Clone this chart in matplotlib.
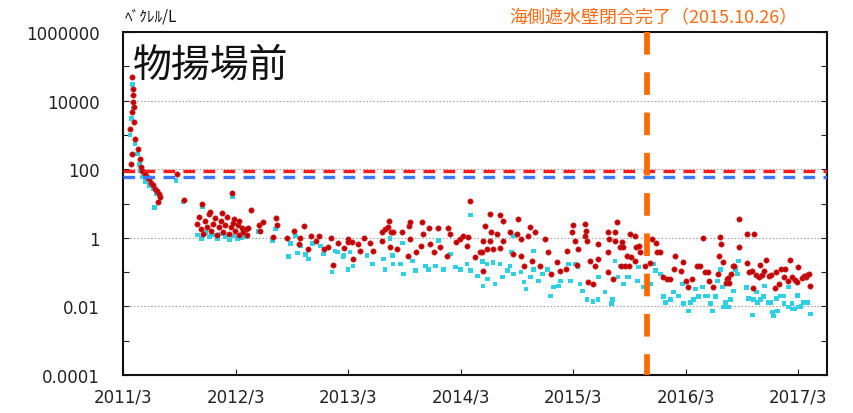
import pandas as pd
import matplotlib
matplotlib.use("Agg")
import matplotlib.pyplot as plt
import matplotlib.ticker as mticker

plt.rcParams['font.family'] = ['DejaVu Sans', 'Noto Sans CJK JP']
plt.rcParams['lines.scale_dashes'] = False

# Cs-137 (red circles)
cs137_dates = [
    "2011-03-24", "2011-03-27", "2011-03-29", "2011-03-30", "2011-03-31", "2011-04-01", "2011-04-02",
    "2011-04-04", "2011-04-05", "2011-04-07", "2011-04-09", "2011-04-18", "2011-04-24", "2011-04-27",
    "2011-05-02", "2011-05-10", "2011-05-17", "2011-05-23", "2011-05-30", "2011-06-06", "2011-06-12",
    "2011-06-19", "2011-06-22", "2011-06-25", "2011-06-29", "2011-08-23", "2011-09-15", "2011-10-28",
    "2011-11-04", "2011-11-10", "2011-11-14", "2011-11-17", "2011-11-23", "2011-11-30", "2011-12-06",
    "2011-12-09", "2011-12-13", "2011-12-19", "2011-12-26",
    "2012-01-01", "2012-01-08", "2012-01-14", "2012-01-15", "2012-01-21", "2012-01-27", "2012-02-03",
    "2012-02-09", "2012-02-16", "2012-02-19", "2012-02-22", "2012-02-23", "2012-02-29", "2012-03-07",
    "2012-03-10", "2012-03-13", "2012-03-20", "2012-03-26", "2012-04-02", "2012-04-08", "2012-04-11",
    "2012-04-21", "2012-05-16", "2012-05-19", "2012-05-29", "2012-07-01", "2012-07-11", "2012-07-12",
    "2012-08-13", "2012-09-05", "2012-09-21", "2012-09-27", "2012-10-10", "2012-10-23", "2012-11-01",
    "2012-11-16", "2012-11-25", "2012-12-11", "2012-12-24",
    "2013-01-03", "2013-01-10", "2013-01-26", "2013-02-15", "2013-02-27", "2013-03-01", "2013-03-14",
    "2013-03-17", "2013-04-03", "2013-04-09", "2013-04-22", "2013-05-11", "2013-05-21", "2013-06-19",
    "2013-06-20", "2013-06-29", "2013-07-09", "2013-07-12", "2013-07-15", "2013-07-18", "2013-07-25",
    "2013-08-08", "2013-08-24", "2013-09-10", "2013-09-13", "2013-09-16", "2013-09-19", "2013-10-06",
    "2013-10-22", "2013-10-28", "2013-10-29", "2013-11-17", "2013-11-23", "2013-12-03", "2013-12-16",
    "2013-12-25",
    "2014-01-17", "2014-01-18", "2014-01-27", "2014-02-13", "2014-02-28", "2014-03-09", "2014-03-22",
    "2014-03-25", "2014-04-01", "2014-04-17", "2014-05-03", "2014-05-09", "2014-05-12", "2014-05-13",
    "2014-05-19", "2014-05-25", "2014-06-03", "2014-06-05", "2014-06-06", "2014-06-15", "2014-06-28",
    "2014-07-06", "2014-07-07", "2014-07-16", "2014-07-17", "2014-08-09", "2014-08-19", "2014-08-31",
    "2014-09-04", "2014-09-13", "2014-09-14", "2014-09-23", "2014-10-07", "2014-10-13", "2014-10-20",
    "2014-10-29", "2014-11-15", "2014-12-01", "2014-12-08", "2014-12-18",
    "2015-01-09", "2015-01-19", "2015-02-05", "2015-02-09", "2015-02-27", "2015-03-01", "2015-03-08",
    "2015-03-14", "2015-03-17", "2015-04-08", "2015-04-09", "2015-04-12", "2015-04-15", "2015-04-18",
    "2015-04-25", "2015-05-05", "2015-05-11", "2015-05-21", "2015-05-22", "2015-06-21", "2015-06-22",
    "2015-06-23", "2015-06-24", "2015-07-09", "2015-07-15", "2015-07-16", "2015-07-21", "2015-08-01",
    "2015-08-02", "2015-08-07", "2015-08-11", "2015-08-17", "2015-08-24", "2015-08-28", "2015-09-03",
    "2015-09-05", "2015-09-18", "2015-09-19", "2015-09-20", "2015-09-30", "2015-10-05", "2015-10-21",
    "2015-11-07", "2015-11-13", "2015-11-26", "2015-11-29", "2015-12-09", "2015-12-19",
    "2016-01-01", "2016-01-11", "2016-01-21", "2016-01-27", "2016-02-13", "2016-02-20", "2016-03-01",
    "2016-03-09", "2016-03-22", "2016-04-07", "2016-04-17", "2016-04-27", "2016-05-03", "2016-05-13",
    "2016-05-14", "2016-05-29", "2016-06-12", "2016-06-15", "2016-06-21", "2016-06-22", "2016-06-28",
    "2016-07-08", "2016-07-14", "2016-07-15", "2016-07-20", "2016-07-24", "2016-07-31", "2016-08-03",
    "2016-08-19", "2016-08-20", "2016-09-14", "2016-09-17", "2016-09-21", "2016-10-03", "2016-10-06",
    "2016-10-07", "2016-10-13", "2016-10-25", "2016-10-26", "2016-11-02", "2016-11-08", "2016-11-15",
    "2016-11-25", "2016-12-01", "2016-12-14", "2016-12-20", "2016-12-27",
    "2017-01-03", "2017-01-13", "2017-01-16", "2017-01-26", "2017-02-02", "2017-02-08", "2017-02-18",
    "2017-02-24", "2017-02-27", "2017-03-14", "2017-03-20", "2017-03-27", "2017-03-30", "2017-04-06",
    "2017-04-09",
]
cs137_vals = [
    1500, 140, 4600, 280, 48000, 22000, 9000,
    15000, 6500, 2400, 760, 390, 200, 115,
    89, 72, 59, 51, 40, 35, 27,
    23, 11, 19, 15.5, 72, 12.6, 2.5,
    4.0, 1.8, 9.7, 1.3, 3.1, 2.1, 4.9,
    5.6, 1.6, 2.5, 3.8,
    1.2, 2.1, 3.1, 5.3, 1.5, 2.4, 4.0,
    1.3, 2.1, 20, 2.7, 3.5, 1.6, 2.4,
    3.1, 1.2, 1.9, 1.5, 1.8, 1.2, 1.9,
    6.5, 2.4, 1.6, 2.9, 1.07, 3.8, 2.4,
    1.0, 1.6, 0.67, 1.0, 2.2, 0.47, 1.14,
    0.82, 1.14, 0.47, 0.55,
    1.0, 0.16, 0.71, 0.51, 0.94, 0.76, 0.76,
    0.24, 0.67, 0.41, 1.0, 0.71, 0.41, 1.5,
    0.82, 1.8, 2.1, 3.1, 0.55, 1.5, 1.5,
    0.47, 1.5, 0.30, 2.2, 0.94, 2.9, 0.39,
    0.58, 2.9, 1.3, 1.9, 0.67, 0.39, 1.9,
    0.55,
    0.30, 1.9, 1.3, 0.76, 0.94, 1.14, 0.58,
    1.07, 11.8, 0.28, 0.39, 0.39, 0.82, 0.11,
    2.2, 0.47, 0.82, 4.9, 1.5, 0.47, 1.3,
    0.51, 4.6, 0.82, 3.1, 1.5, 0.34, 1.3,
    3.5, 0.30, 0.94, 0.15, 1.14, 2.1, 0.21,
    1.5, 0.15, 0.94, 0.39, 0.087,
    0.20, 0.11, 0.12, 0.41, 1.5, 2.4, 0.82,
    0.16, 0.47, 1.14, 2.5, 1.6, 0.82, 0.051,
    0.21, 0.045, 0.15, 0.24, 0.67, 0.10, 0.39,
    1.5, 0.94, 0.063, 1.5, 0.82, 2.9, 0.55,
    0.15, 0.76, 0.55, 0.15, 0.30, 0.15, 1.3,
    0.28, 0.21, 1.14, 0.55, 0.58, 0.39, 0.15,
    0.19, 0.94, 0.71, 0.39, 0.39, 0.072,
    0.063, 0.063, 0.12, 0.30, 0.11, 0.20, 0.055,
    0.037, 0.063, 0.15, 0.15, 1.0, 0.10, 0.10,
    0.055, 0.037, 0.087, 0.30, 1.07, 0.67, 0.20,
    0.048, 0.063, 0.068, 0.048, 0.087, 0.15, 0.15,
    3.5, 0.55, 1.3, 0.19, 0.10, 0.11, 0.035,
    1.3, 0.083, 0.072, 0.16, 0.083, 0.11, 0.22,
    0.077, 0.083, 0.035, 0.10, 0.045,
    0.12, 0.072, 0.12, 0.055, 0.22, 0.072, 0.059,
    0.051, 0.14, 0.068, 0.077, 0.072, 0.083, 0.087,
    0.039,
]

# Cs-134 (cyan squares)
cs134_dates = [
    "2011-03-24", "2011-03-29", "2011-03-31", "2011-04-02", "2011-04-09", "2011-04-18", "2011-04-24",
    "2011-04-27", "2011-05-04", "2011-05-14", "2011-05-27", "2011-06-06", "2011-06-12", "2011-06-16",
    "2011-06-29", "2011-08-20", "2011-09-12", "2011-10-28", "2011-11-10", "2011-11-14", "2011-11-23",
    "2011-12-06", "2011-12-19",
    "2012-01-01", "2012-01-14", "2012-01-27", "2012-02-09", "2012-02-19", "2012-02-22", "2012-03-07",
    "2012-03-20", "2012-04-02", "2012-05-14", "2012-06-28", "2012-07-08", "2012-08-19", "2012-08-26",
    "2012-09-11", "2012-09-17", "2012-09-27", "2012-10-13", "2012-10-23", "2012-11-06", "2012-12-01",
    "2012-12-11",
    "2013-01-07", "2013-01-17", "2013-01-26", "2013-02-12", "2013-02-15", "2013-03-01", "2013-03-07",
    "2013-03-17", "2013-05-01", "2013-05-18", "2013-06-23", "2013-06-29", "2013-07-15", "2013-07-22",
    "2013-07-25", "2013-08-18", "2013-08-24", "2013-08-28", "2013-09-26", "2013-10-06", "2013-11-07",
    "2013-11-17", "2013-12-09", "2013-12-19",
    "2014-01-05", "2014-01-27", "2014-02-13", "2014-02-28", "2014-03-22", "2014-04-01", "2014-04-02",
    "2014-04-24", "2014-05-10", "2014-05-12", "2014-05-26", "2014-05-28", "2014-06-14", "2014-06-21",
    "2014-07-07", "2014-07-14", "2014-07-31", "2014-08-08", "2014-08-14", "2014-08-19", "2014-08-20",
    "2014-09-13", "2014-09-22", "2014-09-29", "2014-10-13", "2014-10-23", "2014-10-24", "2014-11-08",
    "2014-11-21", "2014-12-08", "2014-12-18", "2014-12-27",
    "2015-01-12", "2015-01-19", "2015-02-15", "2015-02-21", "2015-03-08", "2015-03-17", "2015-03-24",
    "2015-03-31", "2015-04-15", "2015-05-05", "2015-05-21", "2015-05-22", "2015-06-13", "2015-07-03",
    "2015-07-06", "2015-07-15", "2015-07-25", "2015-08-01", "2015-08-07", "2015-08-11", "2015-08-24",
    "2015-08-28", "2015-09-26", "2015-09-30", "2015-10-16", "2015-11-07", "2015-11-16", "2015-11-23",
    "2015-12-09", "2015-12-19", "2015-12-26",
    "2016-01-11", "2016-01-21", "2016-02-06", "2016-02-20", "2016-02-23", "2016-03-09", "2016-03-16",
    "2016-03-26", "2016-04-01", "2016-04-11", "2016-04-24", "2016-05-03", "2016-05-12", "2016-05-19",
    "2016-05-26", "2016-06-05", "2016-06-12", "2016-06-21", "2016-06-28", "2016-07-01", "2016-07-08",
    "2016-07-14", "2016-07-17", "2016-07-24", "2016-08-03", "2016-08-09", "2016-08-16", "2016-08-19",
    "2016-09-14", "2016-09-21", "2016-10-04", "2016-10-07", "2016-10-16", "2016-10-20", "2016-10-29",
    "2016-11-08", "2016-11-12", "2016-11-25", "2016-12-01", "2016-12-08", "2016-12-11", "2016-12-20",
    "2016-12-24",
    "2017-01-03", "2017-01-13", "2017-01-14", "2017-01-26", "2017-01-29", "2017-02-08", "2017-02-11",
    "2017-02-18", "2017-02-27", "2017-03-01", "2017-03-10", "2017-03-17", "2017-03-23", "2017-03-30",
    "2017-04-09",
]
cs134_vals = [
    1000, 3000, 30000, 6000, 540, 280, 140,
    89, 59, 43, 33, 27, 7.5, 19,
    13.5, 46, 11, 1.2, 0.94, 8.0, 1.4,
    1.07, 1.2,
    0.94, 1.3, 1.07, 0.87, 15.5, 1.14, 0.94,
    1.0, 1.07, 1.5, 0.82, 1.8, 0.28, 0.67,
    1.14, 0.36, 0.58, 0.32, 0.24, 0.67, 0.58,
    0.34,
    0.10, 0.41, 0.39, 0.28, 0.30, 0.12, 0.39,
    0.15, 0.30, 0.17, 0.24, 0.12, 0.94, 0.30,
    0.17, 0.17, 0.71, 0.087, 0.21, 0.11, 0.15,
    0.12, 0.15, 0.82,
    0.12, 0.34, 0.14, 0.12, 0.17, 4.6, 0.11,
    0.077, 0.20, 0.039, 0.17, 0.063, 0.19, 0.045,
    0.17, 0.072, 0.11, 0.15, 0.39, 1.14, 0.087,
    0.10, 0.051, 0.032, 0.072, 0.12, 0.41, 0.055,
    0.087, 0.12, 0.020, 0.037,
    0.039, 0.055, 0.17, 0.055, 0.17, 0.14, 0.045,
    0.028, 0.016, 0.014, 0.016, 0.072, 0.026, 0.012,
    0.016, 0.21, 0.072, 0.15, 0.14, 0.045, 0.072,
    0.072, 0.055, 0.14, 0.037, 0.045, 0.17, 0.11,
    0.087, 0.019, 0.013,
    0.016, 0.026, 0.020, 0.045, 0.012, 0.0074, 0.013,
    0.016, 0.032, 0.019, 0.037, 0.020, 0.020, 0.012,
    0.0074, 0.019, 0.055, 0.12, 0.037, 0.0096, 0.013,
    0.0096, 0.0096, 0.016, 0.028, 0.12, 0.087, 0.21,
    0.035, 0.017, 0.0056, 0.016, 0.026, 0.013, 0.016,
    0.019, 0.039, 0.013, 0.013, 0.0069, 0.0052, 0.017,
    0.0074,
    0.020, 0.020, 0.012, 0.0096, 0.037, 0.012, 0.0083,
    0.0083, 0.021, 0.0096, 0.010, 0.013, 0.013, 0.013,
    0.0060,
]

limit_cs137 = 90
limit_cs134 = 60
wall_date = "2015-10-26"
tick_dates = ["2011-03-01", "2012-03-01", "2013-03-01", "2014-03-01",
              "2015-03-01", "2016-03-01", "2017-03-01"]
tick_labels = ["2011/3", "2012/3", "2013/3", "2014/3", "2015/3", "2016/3", "2017/3"]
y_ticks = [1e-4, 1e-2, 1, 1e2, 1e4, 1e6]
y_labels = ["0.0001", "0.01", "1", "100", "10000", "1000000"]

fig = plt.figure(figsize=(8.54, 4.14), dpi=100)
ax = fig.add_axes([0.144, 0.092, 0.824, 0.828])
ax.set_yscale("log")
ax.set_ylim(1e-4, 1e6)
ax.set_xlim(pd.Timestamp("2011-03-01"), pd.Timestamp("2017-06-01"))

# grid only at the labelled decades inside the frame
for v in y_ticks[1:-1]:
    ax.axhline(v, color="#9a9a9a", lw=0.8, ls=(0, (1, 1.5)), zorder=1)

ax.scatter(pd.to_datetime(cs134_dates), cs134_vals, marker="s", s=11,
           color="#2fd0e4", edgecolors="none", zorder=3)
ax.scatter(pd.to_datetime(cs137_dates), cs137_vals, marker="o", s=15,
           color="#c00000", edgecolors="#d03030", linewidths=0.4, zorder=4)

ax.axhline(limit_cs137, color="#ff1a1a", lw=2.4, dashes=(8.4, 6.0), zorder=5)
ax.axhline(limit_cs134, color="#3a78ff", lw=2.4, dashes=(8.4, 6.0), zorder=5)

wd = pd.Timestamp(wall_date)
ax.plot([wd, wd], [1, 0], transform=ax.get_xaxis_transform(), color="#ff6a00",
        lw=4.1, dashes=(16.3, 12.7), solid_capstyle="butt", dash_capstyle="butt",
        zorder=6, clip_on=False)

ax.set_xticks(pd.to_datetime(tick_dates))
ax.set_xticklabels(tick_labels)
ax.yaxis.set_major_locator(mticker.FixedLocator(y_ticks))
ax.yaxis.set_major_formatter(mticker.FixedFormatter(y_labels))
ax.yaxis.set_minor_locator(mticker.FixedLocator([1e-3, 1e-1, 1e1, 1e3, 1e5]))
ax.yaxis.set_minor_formatter(mticker.NullFormatter())
ax.tick_params(axis="x", direction="in", length=4, width=0.8, pad=9, labelsize=12, colors="#222222")
ax.tick_params(axis="y", which="both", direction="in", length=4, width=0.8, pad=17,
               labelsize=12, right=True, colors="#222222")
for sp in ax.spines.values():
    sp.set_linewidth(1.5)
    sp.set_color("#111111")

ax.text(0.014, 0.905, "物揚場前", transform=ax.transAxes, fontsize=28,
        family=["Noto Sans CJK JP"], va="center", ha="left", color="#111111")
fig.text(0.146, 0.958, "ﾍﾞｸﾚﾙ/L", fontsize=11, family=["Noto Sans CJK JP"],
         va="center", ha="left", color="#111111")
fig.text(0.765, 0.955, "海側遮水壁閉合完了（2015.10.26）", fontsize=13,
         family=["Noto Sans CJK JP", "DejaVu Sans"], va="center", ha="center", color="#ff6a13")

fig.savefig("out.png", dpi=100)
